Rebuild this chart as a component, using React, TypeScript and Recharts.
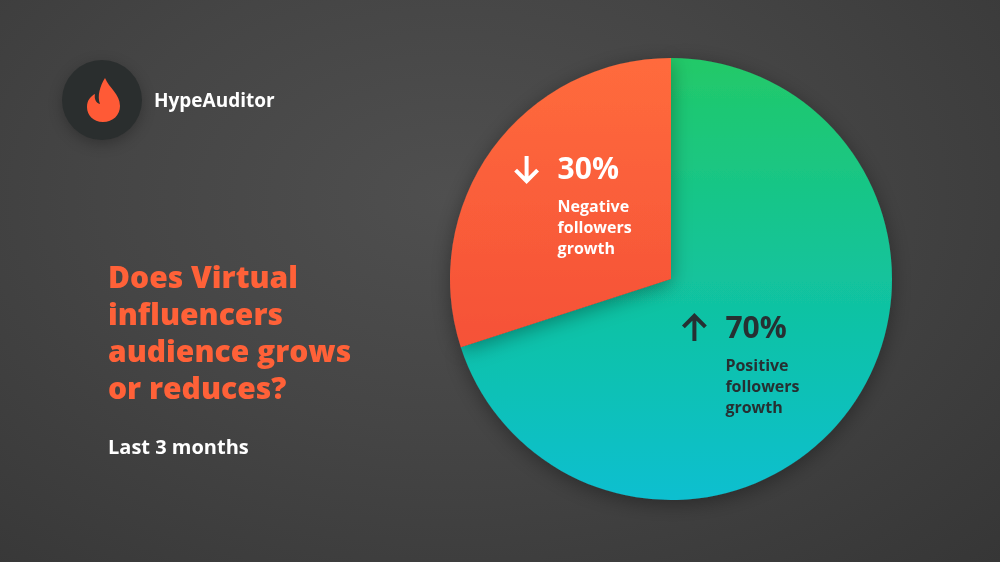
import { PieChart, Pie, Cell } from 'recharts'

const slices = ['Positive', 'Negative']
const shares = [70, 30]
const captions = [
  ['Positive', 'followers', 'growth'],
  ['Negative', 'followers', 'growth']
]
const titleLines = ['Does Virtual', 'influencers', 'audience grows', 'or reduces?']
const subtitle = 'Last 3 months'
const brand = 'HypeAuditor'

const FONT = '"Open Sans", Lato, sans-serif'
const CX = 671
const CY = 279
const R = 221

// label placement relative to the slice mid point
const labelShift = [
  { dx: -35, dy: -6, color: '#263032' },
  { dx: -24, dy: -35, color: '#ffffff' }
]

export default function App() {
  const data = slices.map((name, i) => ({ name, value: shares[i] }))

  const renderLabel = ({ cx, cy, midAngle, outerRadius, index }: any) => {
    const r = outerRadius * 0.5
    const px = cx + r * Math.cos((-midAngle * Math.PI) / 180)
    const py = cy + r * Math.sin((-midAngle * Math.PI) / 180)
    const { dx, dy, color } = labelShift[index]
    const x = px + dx
    const y = py + dy
    const up = index === 0
    const ax = x - 31
    const ay = y - 10
    return (
      <g>
        {up ? (
          <path
            d={`M${ax} ${ay + 13} L${ax} ${ay - 12} M${ax - 11} ${ay - 1} L${ax} ${ay - 12} L${ax + 11} ${ay - 1}`}
            stroke={color}
            strokeWidth={4}
            fill="none"
          />
        ) : (
          <path
            d={`M${ax} ${ay - 13} L${ax} ${ay + 12} M${ax - 11} ${ay + 1} L${ax} ${ay + 12} L${ax + 11} ${ay + 1}`}
            stroke={color}
            strokeWidth={4}
            fill="none"
          />
        )}
        <text x={x} y={y} fill={color} fontFamily={FONT} fontWeight={700} fontSize={30}>
          {shares[index]}%
        </text>
        {captions[index].map((line, j) => (
          <text
            key={j}
            x={x}
            y={y + 33 + j * 21}
            fill={color}
            fontFamily={FONT}
            fontWeight={700}
            fontSize={16}
          >
            {line}
          </text>
        ))}
      </g>
    )
  }

  return (
    <div
      style={{
        position: 'fixed',
        left: 0,
        top: 0,
        width: 1000,
        height: 562,
        overflow: 'hidden',
        background: 'radial-gradient(ellipse at 45% 35%, #4f4f4f 0%, #454545 45%, #363636 100%)',
        fontFamily: FONT
      }}
    >
      <div
        style={{
          position: 'absolute',
          left: 62,
          top: 60,
          width: 80,
          height: 80,
          borderRadius: '50%',
          background: '#2a2e2e',
          boxShadow: '0 4px 14px rgba(0,0,0,0.25)'
        }}
      >
        <svg width={80} height={80} style={{ position: 'absolute', left: 0, top: 0 }}>
          <path
            d="M43 18 C47 28 58 34 58 46 C58 55 51 62 41 62 C31 62 25 55 25 47 C25 40 29 36 33 34 C32 39 34 43 38 44 C35 36 38 26 43 18 Z"
            fill="#ff5a36"
          />
        </svg>
      </div>
      <div
        style={{
          position: 'absolute',
          left: 154,
          top: 87,
          color: '#ffffff',
          fontWeight: 700,
          fontSize: 19,
          lineHeight: '26px'
        }}
      >
        {brand}
      </div>

      <div
        style={{
          position: 'absolute',
          left: 108,
          top: 258,
          color: '#ff6138',
          fontWeight: 800,
          fontSize: 30,
          lineHeight: '37px'
        }}
      >
        {titleLines.map((l) => (
          <div key={l}>{l}</div>
        ))}
      </div>
      <div
        style={{
          position: 'absolute',
          left: 108,
          top: 434,
          color: '#ffffff',
          fontWeight: 700,
          fontSize: 20,
          lineHeight: '26px'
        }}
      >
        {subtitle}
      </div>

      <div style={{ position: 'absolute', left: 0, top: 0 }}>
        <PieChart width={1000} height={562} margin={{ top: 0, right: 0, bottom: 0, left: 0 }}>
          <defs>
            <linearGradient id="gGreen" x1="0" y1={CY - R} x2="0" y2={CY + R} gradientUnits="userSpaceOnUse">
              <stop offset="0%" stopColor="#22c968" />
              <stop offset="50%" stopColor="#12c39c" />
              <stop offset="100%" stopColor="#0abfd0" />
            </linearGradient>
            <linearGradient id="gOrange" x1="0" y1={CY - R} x2="0" y2={CY + R} gradientUnits="userSpaceOnUse">
              <stop offset="0%" stopColor="#ff6b3c" />
              <stop offset="60%" stopColor="#f65338" />
              <stop offset="100%" stopColor="#f04c36" />
            </linearGradient>
            <filter id="pieShadow" x="-20%" y="-20%" width="140%" height="140%">
              <feDropShadow dx="0" dy="4" stdDeviation="10" floodColor="#000" floodOpacity="0.35" />
            </filter>
          </defs>
          <Pie
            data={data}
            dataKey="value"
            nameKey="name"
            cx={CX}
            cy={CY}
            innerRadius={0}
            outerRadius={R}
            startAngle={90}
            endAngle={-270}
            stroke="none"
            labelLine={false}
            label={renderLabel}
            isAnimationActive={false}
            style={{ filter: 'url(#pieShadow)' }}
          >
            {data.map((_, i) => (
              <Cell key={`cell-${i}`} fill={i === 0 ? 'url(#gGreen)' : 'url(#gOrange)'} />
            ))}
          </Pie>
        </PieChart>
      </div>
    </div>
  )
}
